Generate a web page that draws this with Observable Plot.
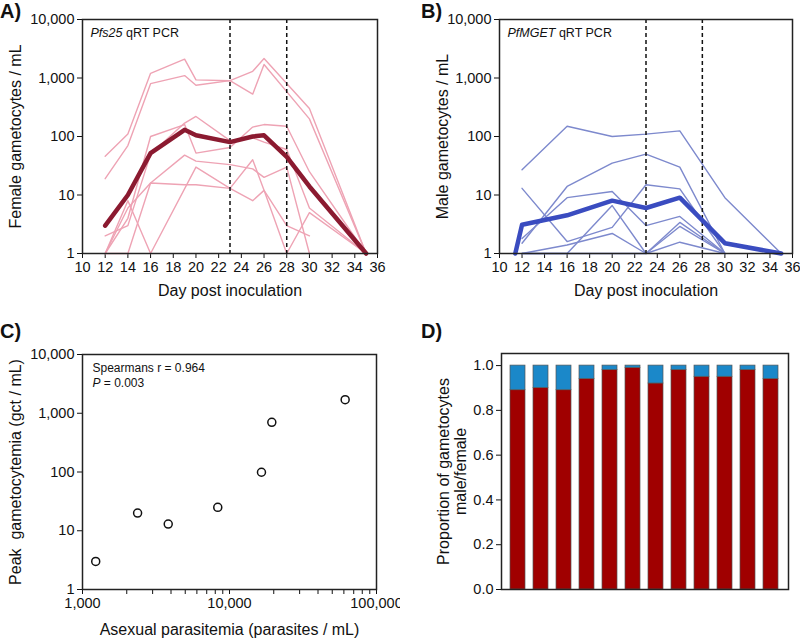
<!DOCTYPE html>
<html><head><meta charset="utf-8">
<script src="https://cdn.jsdelivr.net/npm/d3@7"></script>
<script src="https://cdn.jsdelivr.net/npm/@observablehq/plot@0.6"></script>
<style>
body{margin:0;background:#fff;font-family:"Liberation Sans",Arial,sans-serif;}
#wrap{position:relative;width:800px;height:641px;overflow:hidden;background:#fff;}
.panel{position:absolute;}
.lab{position:absolute;font-weight:bold;font-size:20px;line-height:20px;color:#111;}
</style></head><body><div id="wrap"></div>
<script>
// ---------- Panel A: female gametocytes (Pfs25) ----------
const daysA = [12,14,16,19,20,23,25,26,28,30,35];
const femaleS1 = [46,110,1200,2100,930,900,1300,2150,null,300,1];
const femaleS2 = [19,70,800,1100,750,900,530,1700,null,200,1];
const femaleS3 = [1,4,100,160,52,65,145,160,150,25,1];
const femaleS4 = [2,3,50,170,220,85,95,80,60,6,1];
const femaleS5 = [1,6,16,48,38,33,28,20,30,1,null];
const femaleS6 = [1,8,1,null,30,13,40,12,1,5,1];
const femaleS7 = [1,1,16,15,15,13,8,12,3,2,null];
const femaleMean = [3,10,52,130,105,80,100,105,45,14,1];

// ---------- Panel B: male gametocytes (PfMGET) ----------
const daysB = [12,16,20,23,26,30,35];
const maleS1 = [27,150,100,110,125,9,1];
const maleS2 = [1.5,14,35,50,30,1,null];
const maleS3 = [13,1.6,2.8,15,12.7,1,null];
const maleS4 = [1.8,9,11.5,3,4.3,1,null];
const maleS5 = [1,1,6.6,1,3.4,1,null];
const maleS6 = [1,1.4,2.2,1,2.9,1,null];
const maleS7 = [1,1,1,1,1.56,1,null];
const maleMeanDays = [11.4,12,16,20,23,26,30,35];
const maleMean = [1,3.1,4.5,8,6,9,1.5,1];

const markerDays = [23,28];
const logTicks = [1,10,100,1000,10000];
const dayTicks = [10,12,14,16,18,20,22,24,26,28,30,32,34,36];

// ---------- Panel C: peak gametocytemia vs asexual parasitemia ----------
const asexualPeak = [1230,2370,3830,8320,16500,19400,61200];
const gametPeak = [3,20,13,25,99,700,1700];
const asexTicks = [1000,10000,100000];

// ---------- Panel D: proportion female/male ----------
const subjects = ["1","2","3","4","5","6","7","8","9","10","11","12"];
const femaleProp = [0.89,0.90,0.89,0.94,0.98,0.99,0.92,0.98,0.95,0.95,0.98,0.94];
const propTicks = [0,0.2,0.4,0.6,0.8,1.0];

const style = {fontFamily:"Liberation Sans, Arial, sans-serif", fontSize:"14.5px", background:"transparent", color:"#111", overflow:"hidden"};
const fmtC = d3.format(",");

function toRows(days, vals, id) {
  return days.map((d,i)=>({day:d, value:vals[i], id})).filter(r => r.value != null);
}

function place(el, left, top) {
  const div = document.createElement("div");
  div.className = "panel";
  div.style.left = left + "px"; div.style.top = top + "px";
  div.appendChild(el);
  document.getElementById("wrap").appendChild(div);
  return el;
}
function label(txt, left, top) {
  const d = document.createElement("div");
  d.className = "lab"; d.textContent = txt;
  d.style.left = left + "px"; d.style.top = top + "px";
  document.getElementById("wrap").appendChild(d);
}
function italicize(svg, full, html) {
  svg.querySelectorAll("text").forEach(t => { if (t.textContent === full) t.innerHTML = html; });
}

function timePlot({thinRows, meanRows, thin, thick, ylabel, note, marginLeft, marginRight, ylabDx}) {
  return Plot.plot({
    width:400, height:300, marginTop:19, marginBottom:47, marginLeft, marginRight,
    style,
    x:{domain:[10,36], ticks:dayTicks, tickSize:5, tickPadding:3, label:null},
    y:{type:"log", domain:[1,10000], ticks:logTicks, tickFormat:d3.format(","), tickSize:5, tickPadding:3, label:null},
    marks:[
      Plot.line(thinRows, {x:"day", y:"value", z:"id", stroke:thin, strokeWidth:1.4}),
      Plot.ruleX(markerDays, {stroke:"#111", strokeWidth:1.5, strokeDasharray:"4,3"}),
      Plot.line(meanRows, {x:"day", y:"value", stroke:thick, strokeWidth:4.5}),
      Plot.frame({stroke:"#222", strokeWidth:1.5}),
      Plot.text([ylabel], {frameAnchor:"left", dx:ylabDx, rotate:-90, fontSize:16, textAnchor:"middle", lineAnchor:"middle"}),
      Plot.text(["Day post inoculation"], {frameAnchor:"bottom", dy:37, fontSize:16, textAnchor:"middle", lineAnchor:"middle"}),
      Plot.text([note], {frameAnchor:"top-left", dx:8, dy:13.5, fontSize:12.5, textAnchor:"start", lineAnchor:"middle"})
    ]
  });
}

// Panel A
const thinA = [femaleS1,femaleS2,femaleS3,femaleS4,femaleS5,femaleS6,femaleS7].flatMap((s,i)=>toRows(daysA,s,i));
const meanA = toRows(daysA, femaleMean, "mean");
const svgA = place(timePlot({thinRows:thinA, meanRows:meanA, thin:"#eea3b4", thick:"#8b1a30",
  ylabel:"Female gametocytes / mL", note:"Pfs25 qRT PCR", marginLeft:82, marginRight:23, ylabDx:-67}), 0, 0);
italicize(svgA, "Pfs25 qRT PCR", '<tspan font-style="italic">Pfs25</tspan> qRT PCR');

// Panel B
const thinB = [maleS1,maleS2,maleS3,maleS4,maleS5,maleS6,maleS7].flatMap((s,i)=>toRows(daysB,s,i));
const meanB = toRows(maleMeanDays, maleMean, "mean");
const svgB = place(timePlot({thinRows:thinB, meanRows:meanB, thin:"#7d89cd", thick:"#3a4cc0",
  ylabel:"Male gametocytes / mL", note:"PfMGET qRT PCR", marginLeft:99, marginRight:8, ylabDx:-57}), 400, 0);
italicize(svgB, "PfMGET qRT PCR", '<tspan font-style="italic">PfMGET</tspan> qRT PCR');

// Panel C
const tableC = asexualPeak.map((x,i)=>({x, y:gametPeak[i]}));
const minorC = [];
for (const p of [1000,10000]) for (let k=1;k<10;k++) minorC.push(p*k);
minorC.push(100000);
const svgC = place(Plot.plot({
  width:400, height:321, marginTop:34, marginBottom:52, marginLeft:82, marginRight:24,
  style,
  x:{type:"log", domain:[1000,100000], ticks:minorC, tickFormat:d => asexTicks.includes(d) ? fmtC(d) : "", tickSize:5, tickPadding:3, label:null},
  y:{type:"log", domain:[1,10000], ticks:logTicks, tickFormat:d3.format(","), tickSize:5, tickPadding:3, label:null},
  marks:[
    Plot.dot(tableC, {x:"x", y:"y", r:4, stroke:"#111", strokeWidth:1.5, fill:"white"}),
    Plot.frame({stroke:"#222", strokeWidth:1.5}),
    Plot.text(["Peak  gametocytemia (gct / mL)"], {frameAnchor:"left", dx:-67, rotate:-90, fontSize:16, textAnchor:"middle", lineAnchor:"middle"}),
    Plot.text(["Asexual parasitemia (parasites / mL)"], {frameAnchor:"bottom", dy:40, fontSize:16, textAnchor:"middle", lineAnchor:"middle"}),
    Plot.text(["Spearmans r = 0.964"], {frameAnchor:"top-left", dx:10, dy:14, fontSize:12, textAnchor:"start", lineAnchor:"middle"}),
    Plot.text(["P = 0.003"], {frameAnchor:"top-left", dx:10, dy:29, fontSize:12, textAnchor:"start", lineAnchor:"middle"})
  ]
}), 0, 320);
italicize(svgC, "P = 0.003", '<tspan font-style="italic">P</tspan> = 0.003');
svgC.querySelectorAll("text").forEach(t => { if (t.textContent.startsWith("Peak")) { t.style.whiteSpace = "pre"; t.setAttributeNS("http://www.w3.org/XML/1998/namespace","xml:space","preserve"); } });

// Panel D
const femRows = subjects.map((s,i)=>({id:s, y1:0, y2:femaleProp[i]}));
const maleRows = subjects.map((s,i)=>({id:s, y1:femaleProp[i], y2:1}));
place(Plot.plot({
  width:400, height:321, marginTop:33, marginBottom:52, marginLeft:101, marginRight:12,
  style,
  x:{domain:subjects, paddingInner:0.34, paddingOuter:0.35, axis:null},
  y:{domain:[0,1.054], ticks:propTicks, tickFormat:d3.format(".1f"), tickSize:5, tickPadding:3, label:null},
  marks:[
    Plot.barY(femRows, {x:"id", y1:"y1", y2:"y2", fill:"#a00000", stroke:"#555", strokeWidth:0.7}),
    Plot.barY(maleRows, {x:"id", y1:"y1", y2:"y2", fill:"#1b88c9", stroke:"#555", strokeWidth:0.7}),
    Plot.frame({stroke:"#222", strokeWidth:1.5}),
    Plot.text(["Proportion of gametocytes"], {frameAnchor:"left", dx:-58, rotate:-90, fontSize:16, textAnchor:"middle", lineAnchor:"middle"}),
    Plot.text(["male/female"], {frameAnchor:"left", dx:-41, rotate:-90, fontSize:16, textAnchor:"middle", lineAnchor:"middle"})
  ]
}), 400, 320);

label("A)", 0, 1);
label("B)", 421, 1);
label("C)", 0, 321);
label("D)", 421, 321);
</script></body></html>
